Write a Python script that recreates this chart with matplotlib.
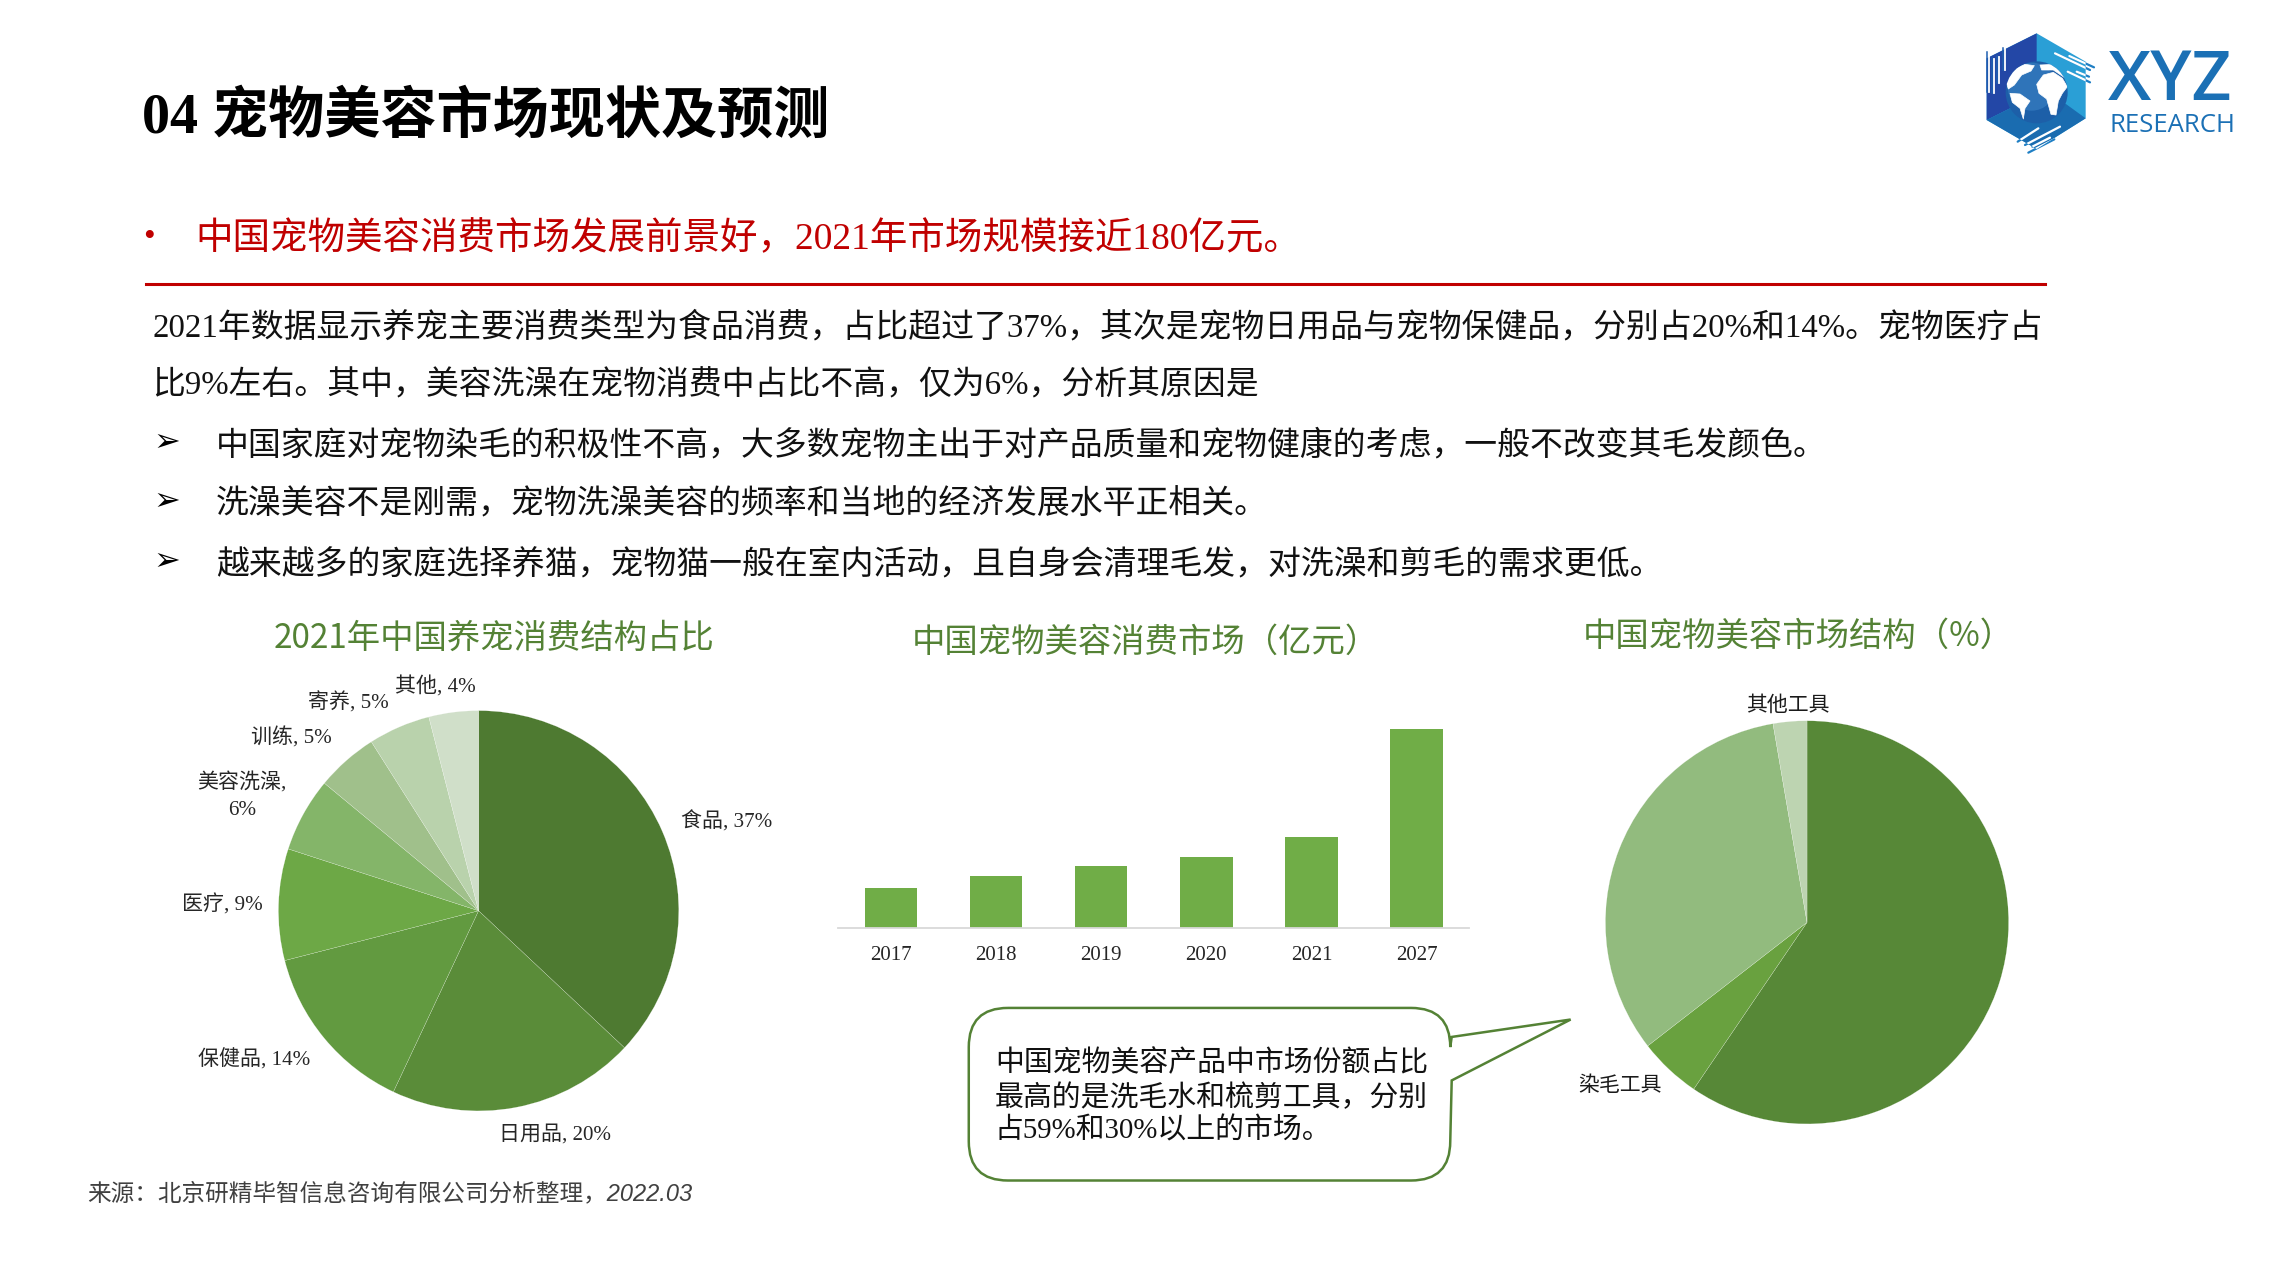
import matplotlib
matplotlib.use('Agg')
import matplotlib.pyplot as plt
from matplotlib.patches import Polygon, Circle, PathPatch
from matplotlib.path import Path

plt.rcParams['font.family'] = ['Liberation Serif', 'Noto Sans CJK SC', 'DejaVu Sans']

W, H = 2274, 1279
S = W / 1568  # layout was measured on a 1568 wide view

# data
pie1_labels = ['食品, 37%', '日用品, 20%', '保健品, 14%', '医疗, 9%', '美容洗澡,\n6%', '训练, 5%', '寄养, 5%', '其他, 4%']
pie1_values = [37, 20, 14, 9, 6, 5, 5, 4]
pie1_colors = ['#4E7A31', '#5A8C39', '#629A40', '#6DA846', '#84B569', '#A0C08B', '#B9D2AC', '#D0DFC9']

years = ['2017', '2018', '2019', '2020', '2021', '2027']
market = [80, 103, 123, 140, 180, 391]

pie2_labels = ['洗毛水', '染毛工具', '梳剪工具', '其他工具']
pie2_values = [59.5, 5, 32.8, 2.7]
pie2_colors = ['#578837', '#69A13F', '#92BB7E', '#BDD4B1']

title = '04 宠物美容市场现状及预测'
headline = '中国宠物美容消费市场发展前景好，2021年市场规模接近180亿元。'
body = ['2021年数据显示养宠主要消费类型为食品消费，占比超过了37%，其次是宠物日用品与宠物保健品，分别占20%和14%。宠物医疗占',
        '比9%左右。其中，美容洗澡在宠物消费中占比不高，仅为6%，分析其原因是']
bullets = ['中国家庭对宠物染毛的积极性不高，大多数宠物主出于对产品质量和宠物健康的考虑，一般不改变其毛发颜色。',
           '洗澡美容不是刚需，宠物洗澡美容的频率和当地的经济发展水平正相关。',
           '越来越多的家庭选择养猫，宠物猫一般在室内活动，且自身会清理毛发，对洗澡和剪毛的需求更低。']
callout = ['中国宠物美容产品中市场份额占比', '最高的是洗毛水和梳剪工具，分别', '占59%和30%以上的市场。']
source = '来源：北京研精毕智信息咨询有限公司分析整理，2022.03'

GREEN = '#548235'
RED = '#C00000'
SANS = ['Noto Sans CJK SC', 'DejaVu Sans']

fig = plt.figure(figsize=(W / 100, H / 100), dpi=100, facecolor='white')
bg = fig.add_axes([0, 0, 1, 1])
bg.set_xlim(0, W)
bg.set_ylim(H, 0)
bg.axis('off')


def box(x0, y0, x1, y1):
    # view coords (y down) -> figure fraction rectangle
    return [x0 * S / W, 1 - y1 * S / H, (x1 - x0) * S / W, (y1 - y0) * S / H]


def txt(x, y, s, size, **kw):
    kw.setdefault('va', 'center')
    kw.setdefault('color', 'black')
    return bg.text(x * S, y * S, s, fontsize=size, **kw)


# header
txt(98, 81, title, 40.4, fontweight='bold')
txt(99, 164, '•', 24, color=RED)
txt(135, 165, headline, 27, color=RED)
bg.plot([101 * S, 1410 * S], [196 * S, 196 * S], color=RED, lw=2.2)

for y, line in zip([226, 266], body):
    txt(105, y, line, 23.65, color='#111111')
for y, line in zip([307, 348, 389], bullets):
    txt(106, y - 2, '➢', 23, family=['DejaVu Sans'])
    txt(149, y, line, 23.65, color='#111111')

# chart titles
txt(341, 440, '2021年中国养宠消费结构占比', 24, color=GREEN, ha='center', family=SANS)
txt(790, 443, '中国宠物美容消费市场（亿元）', 24, color=GREEN, ha='center', family=SANS)
txt(1240, 439, '中国宠物美容市场结构（%）', 24, color=GREEN, ha='center', family=SANS)

# left pie
ax1 = fig.add_axes(box(330 - 138, 628 - 138, 330 + 138, 628 + 138))
ax1.pie(pie1_values, colors=pie1_colors, startangle=90, counterclock=False, radius=1,
        wedgeprops={'edgecolor': 'white', 'linewidth': 0.12})
ax1.set_xlim(-1, 1)
ax1.set_ylim(-1, 1)
pie1_pos = [(501, 567), (383, 782), (175, 731), (153, 624), (167, 549), (201, 509), (240, 485), (300, 474)]
for (x, y), lab in zip(pie1_pos, pie1_labels):
    txt(x, y, lab, 15.1, ha='center', color='#262626', linespacing=1.5)

# bars
ax2 = fig.add_axes(box(578, 503 - 4, 1013, 640))
ax2.bar(years, market, width=0.5, color='#70AD47')
ax2.set_xlim(-0.5, 5.5)
ax2.set_ylim(0, 391 * 141 / 137)
ax2.set_yticks([])
for sp in ['top', 'left', 'right']:
    ax2.spines[sp].set_visible(False)
ax2.spines['bottom'].set_color('#D9D9D9')
ax2.spines['bottom'].set_linewidth(1.3)
ax2.tick_params(axis='x', length=0, labelsize=15, labelcolor='#262626', pad=13)

# right pie
ax3 = fig.add_axes(box(1246 - 139, 636 - 139, 1246 + 139, 636 + 139))
ax3.pie(pie2_values, colors=pie2_colors, startangle=90, counterclock=False, radius=1,
        wedgeprops={'edgecolor': 'white', 'linewidth': 0.12})
ax3.set_xlim(-1, 1)
ax3.set_ylim(-1, 1)
pie2_pos = [(1347, 673), (1117, 748), (1150, 605), (1233, 486)]
for (x, y), lab in zip(pie2_pos, pie2_labels):
    txt(x, y, lab, 15, ha='center', color='#1A1A1A', family=SANS)

# callout with tail
l, t, r, b, c = 668 * S, 695 * S, 1000 * S, 814 * S, 27 * S
verts = [(l + c, t), (r - c, t), (r, t), (r, t + c), (1001 * S, 715 * S), (1083 * S, 703 * S),
         (1001 * S, 745 * S), (r, b - c), (r, b), (r - c, b), (l + c, b), (l, b), (l, b - c),
         (l, t + c), (l, t), (l + c, t)]
codes = [Path.MOVETO, Path.LINETO, Path.CURVE3, Path.CURVE3, Path.LINETO, Path.LINETO,
         Path.LINETO, Path.LINETO, Path.CURVE3, Path.CURVE3, Path.LINETO, Path.CURVE3, Path.CURVE3,
         Path.LINETO, Path.CURVE3, Path.CURVE3]
bg.add_patch(PathPatch(Path(verts, codes), facecolor='white', edgecolor=GREEN, lw=1.8, zorder=3))
for y, line in zip([733, 757, 780], callout):
    txt(686, y, line, 20.8, zorder=4, color='#111111')

txt(60, 823, source, 17, style='italic', color='#404040', family=['Liberation Sans', 'Noto Sans CJK SC'])


# logo, measured on a crop of the corner
def lg(x, y):
    return 1975 + x / 3, 25 + y / 3


hexagon = Polygon([lg(185, 25), lg(332, 110), lg(332, 280), lg(185, 372), lg(35, 285), lg(35, 100)], fc='#2A9FD6', ec='none')
bg.add_patch(hexagon)
bg.add_patch(Polygon([lg(185, 25), lg(35, 100), lg(35, 285), lg(125, 240), lg(185, 200)], fc='#2347A6', ec='none'))
bg.add_patch(Polygon([lg(35, 285), lg(125, 240), lg(270, 235), lg(332, 280), lg(185, 372)], fc='#1A6CB0', ec='none'))

# stripes: blue outside the hexagon, white where they cross it
stripes = [((240, 85), (345, 135)), ((283, 93), (357, 127)), ((278, 140), (345, 172)), ((305, 140), (342, 155)),
           ((128, 350), (190, 310)), ((150, 360), (255, 305)), ((172, 365), (225, 338)), ((160, 383), (238, 343))]
for p0, p1 in stripes:
    bg.plot(*zip(lg(*p0), lg(*p1)), color='#1F7FC4', lw=1.6, solid_capstyle='round')
    ln, = bg.plot(*zip(lg(*p0), lg(*p1)), color='white', lw=1.6, solid_capstyle='round')
    ln.set_clip_path(hexagon)
for x, y0, y1 in [(37, 82, 200), (52, 100, 205), (66, 92, 175), (85, 70, 135)]:
    bg.plot(*zip(lg(x, y0), lg(x, y1)), color='#1F5FB0', lw=1.1)
    bg.plot(*zip(lg(x + 6, y0 + 3), lg(x + 6, y1)), color='white', lw=1.3)

globe = Circle(lg(185, 202), 31, fc='#1D5FA8', ec='none')
bg.add_patch(globe)
shade = Circle(lg(170, 185), 24, fc='#3F86C8', ec='none', alpha=0.55)
bg.add_patch(shade)
shade.set_clip_path(globe)
continents = [
    [(185, 178), (205, 150), (235, 142), (262, 160), (277, 185), (262, 205), (250, 228), (243, 270), (228, 268), (215, 222), (192, 205)],
    [(93, 170), (112, 135), (150, 118), (178, 122), (168, 138), (140, 150), (118, 180), (100, 192)],
    [(105, 205), (135, 207), (165, 228), (150, 250), (145, 282), (135, 250), (112, 232)],
    [(195, 120), (240, 118), (278, 145), (272, 160), (235, 135), (200, 135)],
]
for pts in continents:
    land = Polygon([lg(*p) for p in pts], fc='white', ec='white', lw=0.5, joinstyle='round')
    bg.add_patch(land)
    land.set_clip_path(globe)

bg.text(2108 + 0, 100.5, 'XYZ', fontsize=50, color='#1B70B5', ha='left', va='baseline', family=['Open Sans'], fontweight='semibold')
bg.text(2110, 131.5, 'RESEARCH', fontsize=18.5, color='#1B70B5', ha='left', va='baseline', family=['Open Sans'], fontweight='medium')

fig.savefig('out.png', dpi=100)
